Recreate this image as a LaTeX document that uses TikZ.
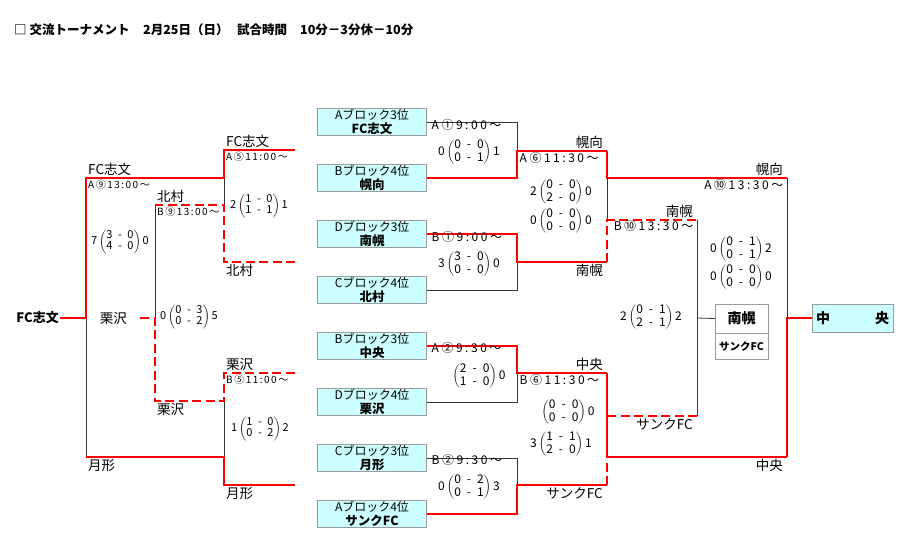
\documentclass[tikz,border=0pt]{standalone}
\usepackage{fontspec}
\setmainfont{Noto Sans CJK JP}
\usetikzlibrary{positioning}
\definecolor{winred}{HTML}{FF0000}
\definecolor{seedfill}{HTML}{CCFFFF}
\definecolor{seedline}{HTML}{9A9A9A}
\newcommand{\sdash}{\enspace-\enspace}
\newcommand{\scorepair}[4]{#1\,$\left(\begin{tabular}{@{}c@{}}#2\\#3\end{tabular}\right)$\,#4}
\renewcommand{\arraystretch}{0.9}
\tikzset{
  win/.style={winred,line width=1.7pt},
  winpk/.style={winred,line width=1.7pt,dash pattern=on 9pt off 4.5pt},
  lose/.style={black!80,line width=0.8pt},
  headline/.style={anchor=west,inner sep=0pt,font=\fontsize{12.5}{14}\selectfont\bfseries},
  team/.style={font=\fontsize{13.5}{14}\selectfont,inner sep=1pt},
  kickoff/.style={font=\fontsize{10}{11}\selectfont\addfontfeature{LetterSpace=15},inner sep=1pt},
  kickoffbig/.style={font=\fontsize{12}{13}\selectfont\addfontfeature{LetterSpace=21},inner sep=0.5pt},
  score/.style={font=\fontsize{12}{14.5}\selectfont,inner sep=0pt,text height=12pt,text depth=9pt},
  scoresm/.style={font=\fontsize{11}{12.5}\selectfont,inner sep=0pt,text height=10pt,text depth=7pt},
  seed/.style={draw=seedline,fill=seedfill,minimum width=109pt,minimum height=27pt,
    inner sep=0pt,align=center,font=\fontsize{12}{13.5}\selectfont}
}
\newcommand{\seedtxt}[2]{#1\\{\fontsize{12.5}{13.5}\selectfont\bfseries #2}}

\begin{document}
\begin{tikzpicture}[x=1pt,y=-1pt]
  \useasboundingbox (0,0) rectangle (918,546);
  \node[headline] (title) at (14,30) {□ 交流トーナメント};
  \node[headline] (date) at (143,30) {2月25日（日）};
  \node[headline] (rules) at (237,30) {試合時間};
  \node[headline] (halves) at (300,30) {10分－3分休－10分};

  % seeds
  \node[seed] (s1) at (372,122) {\seedtxt{Aブロック3位}{FC志文}};
  \node[seed] (s2) at (372,178) {\seedtxt{Bブロック4位}{幌向}};
  \node[seed] (s3) at (372,234) {\seedtxt{Dブロック3位}{南幌}};
  \node[seed] (s4) at (372,290) {\seedtxt{Cブロック4位}{北村}};
  \node[seed] (s5) at (372,346) {\seedtxt{Bブロック3位}{中央}};
  \node[seed] (s6) at (372,402) {\seedtxt{Dブロック4位}{栗沢}};
  \node[seed] (s7) at (372,458) {\seedtxt{Cブロック3位}{月形}};
  \node[seed] (s8) at (372,514) {\seedtxt{Aブロック4位}{サンクFC}};

  % left side
  \coordinate (a9t) at (86,178); \coordinate (a9m) at (86,318); \coordinate (a9b) at (86,457);
  \coordinate (a5t) at (224,150); \coordinate (a5j) at (224,178); \coordinate (a5m) at (224,205); \coordinate (a5b) at (224,262);
  \coordinate (b9t) at (155,205); \coordinate (b9m) at (155,318); \coordinate (b9b) at (155,401);
  \coordinate (b5t) at (224,373); \coordinate (b5m) at (224,401); \coordinate (b5j) at (224,457); \coordinate (b5b) at (224,485);
  \coordinate (e1) at (295,150); \coordinate (e2) at (295,262); \coordinate (e3) at (295,373); \coordinate (e4) at (295,485);
  \coordinate (kstub) at (140,318);
  % middle
  \coordinate (m1t) at (517,122); \coordinate (m1j) at (517,151); \coordinate (m1b) at (517,178);
  \coordinate (m2t) at (517,234); \coordinate (m2j) at (517,262); \coordinate (m2b) at (517,290);
  \coordinate (m3t) at (517,346); \coordinate (m3j) at (517,373); \coordinate (m3b) at (517,402);
  \coordinate (m4t) at (517,458); \coordinate (m4j) at (517,485); \coordinate (m4b) at (517,514);
  \coordinate (r1t) at (607,151); \coordinate (r1j) at (607,178); \coordinate (r1m) at (607,220); \coordinate (r1b) at (607,262);
  \coordinate (r2t) at (607,373); \coordinate (r2m) at (607,416); \coordinate (r2j) at (607,457); \coordinate (r2b) at (607,485);
  % right side
  \coordinate (q1t) at (697,220); \coordinate (q1m) at (697,318); \coordinate (q1b) at (697,416);
  \coordinate (f1t) at (787,178); \coordinate (f1m) at (787,318); \coordinate (f1b) at (787,457);

  \node[team,anchor=east,font=\fontsize{13}{14}\selectfont\bfseries] (fcL) at (60,318) {FC志文};
  \node[team,anchor=east] (kuriL) at (128,318) {栗沢};
  \node[draw=seedline,fill=seedfill,minimum width=81pt,minimum height=28pt,text width=73pt,
    font=\fontsize{14}{15}\selectfont\bfseries] (champ) at (852.5,318) {中\hfill 央};
  \node[draw=seedline,minimum width=53pt,minimum height=29pt,inner sep=0pt,
    font=\fontsize{14}{15}\selectfont\bfseries] (res1) at (741.5,318.5) {南幌};
  \node[draw=seedline,minimum width=53pt,minimum height=26pt,inner sep=0pt,
    font=\fontsize{10.5}{11}\selectfont\bfseries,below=0pt of res1] (res2) {サンクFC};

  % losing lines
  \draw[lose] (a9m) -- (a9b);
  \draw[lose] (a5j) -- (a5m);
  \draw[lose] (b9t) -- (b9m);
  \draw[lose] (b5m) -- (b5j);
  \draw[lose] (s1.east) -- (m1t) -- (m1j);
  \draw[lose] (s4.east) -- (m2b) -- (m2j);
  \draw[lose] (s6.east) -- (m3b) -- (m3j);
  \draw[lose] (s7.east) -- (m4t) -- (m4j);
  \draw[lose] (r1j) -- (r1m);
  \draw[lose] (q1t) -- (q1b);
  \draw[lose] (q1m) -- (res1.west);
  \draw[lose] (f1t) -- (f1m);
  % winning lines
  \draw[win] (fcL.east) -- (a9m) -- (a9t) -- (a5j) -- (a5t) -- (e1);
  \draw[win] (a9b) -- (b5j) -- (b5b) -- (e4);
  \draw[winpk] (e2) -- (a5b) -- (a5m) -- (b9t);
  \draw[winpk] (kstub) -- (b9m) -- (b9b) -- (b5m) -- (b5t) -- (e3);
  \draw[win] (s2.east) -- (m1b) -- (m1j) -- (r1t);
  \draw[win] (s3.east) -- (m2t) -- (m2j) -- (r1b);
  \draw[win] (s5.east) -- (m3t) -- (m3j) -- (r2t);
  \draw[win] (s8.east) -- (m4b) -- (m4j) -- (r2b);
  \draw[win] (r1t) -- (r1j) -- (f1t);
  \draw[winpk] (r1b) -- (r1m) -- (q1t);
  \draw[win] (r2t) -- (r2j) -- (f1b);
  \draw[winpk] (r2b) -- (r2j);
  \draw[winpk] (r2m) -- (q1b);
  \draw[win] (f1b) -- (f1m) -- (champ.west);

  % team names on the lines
  \node[team,anchor=south west] (nA9t) at (87,177) {FC志文};
  \node[kickoff,anchor=north west] (kA9) at (87,179) {A⑨13:00～};
  \node[team,anchor=north west] (nA9b) at (87,458) {月形};
  \node[team,anchor=south west] (nA5t) at (225,149) {FC志文};
  \node[kickoff,anchor=north west] (kA5) at (225,151) {A⑤11:00～};
  \node[team,anchor=north west] (nA5b) at (225,263) {北村};
  \node[team,anchor=south west] (nB9t) at (156,204) {北村};
  \node[kickoff,anchor=north west] (kB9) at (156,206) {B⑨13:00～};
  \node[team,anchor=north west] (nB9b) at (156,402) {栗沢};
  \node[team,anchor=south west] (nB5t) at (225,372) {栗沢};
  \node[kickoff,anchor=north west] (kB5) at (225,374) {B⑤11:00～};
  \node[team,anchor=north west] (nB5b) at (225,486) {月形};

  \node[kickoffbig,anchor=north west] (kA1) at (431,119) {A①9:00～};
  \node[kickoffbig,anchor=north west] (kB1) at (431,231) {B①9:00～};
  \node[kickoffbig,anchor=north west] (kA2) at (431,342) {A②9:30～};
  \node[kickoffbig,anchor=north west] (kB2) at (431,454) {B②9:30～};

  \node[team,anchor=south east] (nA6t) at (604,150) {幌向};
  \node[kickoffbig,anchor=north west] (kA6) at (519,152) {A⑥11:30～};
  \node[team,anchor=north east] (nA6b) at (604,263) {南幌};
  \node[team,anchor=south east] (nB6t) at (604,372) {中央};
  \node[kickoffbig,anchor=north west] (kB6) at (519,374) {B⑥11:30～};
  \node[team,anchor=north east] (nB6b) at (604,486) {サンクFC};

  \node[team,anchor=south east] (nB10t) at (694,219) {南幌};
  \node[kickoffbig,anchor=north east] (kB10) at (694,220) {B⑩13:30～};
  \node[team,anchor=north east] (nB10b) at (694,417) {サンクFC};
  \node[team,anchor=south east] (nA10t) at (784,177) {幌向};
  \node[kickoffbig,anchor=north east] (kA10) at (784,179) {A⑩13:30～};
  \node[team,anchor=north east] (nA10b) at (784,458) {中央};

  % scores
  \node[scoresm] (pA9) at (120,243) {\scorepair{7}{3\sdash0}{4\sdash0}{0}};
  \node[scoresm] (pB9) at (189,318) {\scorepair{0}{0\sdash3}{0\sdash2}{5}};
  \node[scoresm] (pA5) at (259,207) {\scorepair{2}{1\sdash0}{1\sdash1}{1}};
  \node[scoresm] (pB5) at (260,430) {\scorepair{1}{1\sdash0}{0\sdash2}{2}};
  \node[score] (pA1) at (469,154) {\scorepair{0}{0\sdash0}{0\sdash1}{1}};
  \node[score] (pB1) at (469,266) {\scorepair{3}{3\sdash0}{0\sdash0}{0}};
  \node[score] (pA2) at (478,378) {\scorepair{}{2\sdash0}{1\sdash0}{0}};
  \node[score] (pB2) at (469,489) {\scorepair{0}{0\sdash2}{0\sdash1}{3}};
  \node[score] (pA6a) at (561,194) {\scorepair{2}{0\sdash0}{2\sdash0}{0}};
  \node[score] (pA6b) at (561,223) {\scorepair{0}{0\sdash0}{0\sdash0}{0}};
  \node[score] (pB6a) at (567,414) {\scorepair{}{0\sdash0}{0\sdash0}{0}};
  \node[score] (pB6b) at (561,446) {\scorepair{3}{1\sdash1}{2\sdash0}{1}};
  \node[score] (pB10) at (651,319) {\scorepair{2}{0\sdash1}{2\sdash1}{2}};
  \node[score] (pA10a) at (741,251) {\scorepair{0}{0\sdash1}{0\sdash1}{2}};
  \node[score] (pA10b) at (741,279) {\scorepair{0}{0\sdash0}{0\sdash0}{0}};
\end{tikzpicture}
\end{document}
